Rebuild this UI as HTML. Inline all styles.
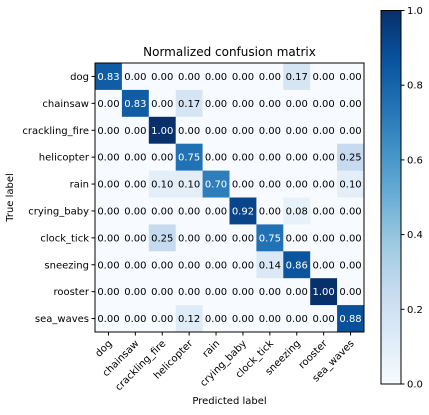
<!DOCTYPE html>
<html><head><meta charset="utf-8"><style>
body{margin:0;background:#fff;}
svg{display:block;font-family:"DejaVu Sans","Liberation Sans",sans-serif;}
</style></head><body>
<svg id="c" width="429" height="415"></svg>
<script>
const classes=["dog","chainsaw","crackling_fire","helicopter","rain","crying_baby","clock_tick","sneezing","rooster","sea_waves"];
const rowDog=[0.83,0,0,0,0,0,0,0.17,0,0];
const rowChainsaw=[0,0.83,0,0.17,0,0,0,0,0,0];
const rowFire=[0,0,1.00,0,0,0,0,0,0,0];
const rowHeli=[0,0,0,0.75,0,0,0,0,0,0.25];
const rowRain=[0,0,0.10,0.10,0.70,0,0,0,0,0.10];
const rowBaby=[0,0,0,0,0,0.92,0,0.08,0,0];
const rowClock=[0,0,0.25,0,0,0,0.75,0,0,0];
const rowSneeze=[0,0,0,0,0,0,0.14,0.86,0,0];
const rowRooster=[0,0,0,0,0,0,0,0,1.00,0];
const rowSea=[0,0,0,0.12,0,0,0,0,0,0.88];
const matrix=[rowDog,rowChainsaw,rowFire,rowHeli,rowRain,rowBaby,rowClock,rowSneeze,rowRooster,rowSea];
const cbTicks=[0,0.2,0.4,0.6,0.8,1.0];

const NS="http://www.w3.org/2000/svg",svg=document.getElementById('c');
function mk(t,a,txt){const e=document.createElementNS(NS,t);for(const k in a)e.setAttribute(k,a[k]);if(txt!=null)e.textContent=txt;svg.appendChild(e);return e;}
const L=95,T=63,W=269,H=269,n=classes.length,cw=W/n,ch=H/n;
const sx=i=>L+i*cw, sy=i=>T+i*ch;
const stops=["#f7fbff","#deebf7","#c6dbef","#9ecae1","#6baed6","#4292c6","#2171b5","#08519c","#08306b"];
function hex(h){return [1,3,5].map(i=>parseInt(h.substr(i,2),16));}
function cmap(v){v=Math.max(0,Math.min(1,v));const p=v*8,i=Math.min(7,Math.floor(p)),f=p-i;const a=hex(stops[i]),b=hex(stops[i+1]);return `rgb(${a.map((x,k)=>Math.round(x+(b[k]-x)*f)).join(',')})`;}

// defs gradient for colorbar
const defs=mk('defs',{});
const g=document.createElementNS(NS,'linearGradient');g.setAttribute('id','cbg');g.setAttribute('x1','0');g.setAttribute('y1','1');g.setAttribute('x2','0');g.setAttribute('y2','0');defs.appendChild(g);
stops.forEach((s,i)=>{const st=document.createElementNS(NS,'stop');st.setAttribute('offset',i/8);st.setAttribute('stop-color',s);g.appendChild(st);});

mk('text',{x:L+W/2,y:56,'text-anchor':'middle','font-size':12,fill:'#000',},'Normalized confusion matrix');

matrix.forEach((row,r)=>row.forEach((v,c)=>{
  const rc=mk('rect',{x:sx(c),y:sy(r),width:cw+0.3,height:ch+0.3,fill:cmap(v)});
  
  
  const t=mk('text',{x:sx(c)+cw/2,y:sy(r)+ch/2+3.5,'text-anchor':'middle','font-size':10,fill:v>0.5?'#fff':'#000'},v.toFixed(2));
  
  
}));
mk('rect',{x:L,y:T,width:W,height:H,fill:'none',stroke:'#000','stroke-width':1,});

classes.forEach((c,i)=>{
  mk('line',{x1:L-3.5,x2:L,y1:sy(i)+ch/2,y2:sy(i)+ch/2,stroke:'#000'});
  const yl=mk('text',{x:L-6,y:sy(i)+ch/2+3.5,'text-anchor':'end','font-size':10,fill:'#000'},c);
  
  
  const x=sx(i)+cw/2;
  mk('line',{x1:x,x2:x,y1:T+H,y2:T+H+3.5,stroke:'#000'});
  const xl=mk('text',{x:x+4,y:T+H+12,'text-anchor':'end','font-size':10,fill:'#000',transform:`rotate(-45 ${x+4} ${T+H+12})`},c);
  
  
});
mk('text',{x:L+W/2,y:404,'text-anchor':'middle','font-size':10,fill:'#000',},'Predicted label');
mk('text',{x:13,y:T+H/2,'text-anchor':'middle','font-size':10,fill:'#000',transform:`rotate(-90 13 ${T+H/2})`,},'True label');

// colorbar
const cbL=381,cbT=10.5,cbW=20,cbH=373.5;
const cy=v=>cbT+cbH*(1-v);
mk('rect',{x:cbL,y:cbT,width:cbW,height:cbH,fill:'url(#cbg)',stroke:'#000','stroke-width':1,});
cbTicks.forEach(v=>{
  mk('line',{x1:cbL+cbW,x2:cbL+cbW+3.5,y1:cy(v),y2:cy(v),stroke:'#000'});
  const t=mk('text',{x:cbL+cbW+6,y:cy(v)+3.5,'font-size':10,fill:'#000'},v.toFixed(1));
  
  
});
</script>
</body></html>
